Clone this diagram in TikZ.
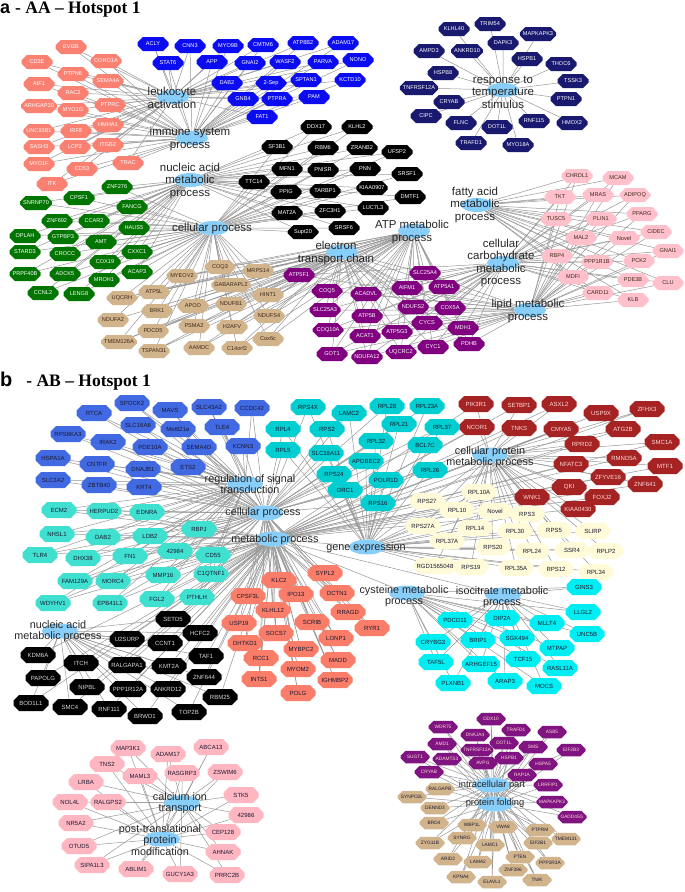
\documentclass[tikz,border=0pt]{standalone}
\usepackage{fontspec}
\setmainfont{Liberation Serif}
\setsansfont{Liberation Sans}
\usetikzlibrary{shapes.misc,shapes.geometric,backgrounds}

\definecolor{termblue}{RGB}{135,206,250}
\definecolor{cEdge}{RGB}{150,150,150}
\definecolor{cSalmon}{RGB}{250,128,114}
\definecolor{cBlue}{RGB}{12,12,240}
\definecolor{cNavy}{RGB}{25,25,112}
\definecolor{cGreen}{RGB}{0,118,0}
\definecolor{cTan}{RGB}{210,180,140}
\definecolor{cPurple}{RGB}{128,0,128}
\definecolor{cPink}{RGB}{255,192,203}
\definecolor{cBrown}{RGB}{60,40,25}
\definecolor{cInk}{RGB}{25,25,50}
\definecolor{cRoyal}{RGB}{65,105,225}
\definecolor{cTurq}{RGB}{64,224,208}
\definecolor{cTomato}{RGB}{250,125,105}
\definecolor{cTeal}{RGB}{0,206,209}
\definecolor{cRed}{RGB}{165,35,35}
\definecolor{cCream}{RGB}{255,250,215}
\definecolor{cCyan}{RGB}{0,238,242}
\definecolor{cPinkB}{RGB}{255,182,193}
\definecolor{cPurpleB}{RGB}{128,20,128}

\newcommand\genefont{\sffamily\fontsize{5.6}{6}\selectfont}
\newcommand\genefontb{\sffamily\fontsize{6}{7}\selectfont}
\newcommand\genefontc{\sffamily\fontsize{4.8}{5}\selectfont}
\newcommand\termfont{\sffamily\fontsize{11.5}{12.5}\selectfont}
\newcommand\termfontb{\sffamily\fontsize{10.8}{11.5}\selectfont}
\newcommand\termfontc{\sffamily\fontsize{9.3}{10}\selectfont}

% gene lists: name/x/y
\def\aSalList{EVI2B/71/47,CD3E/37/62,CORO1A/106/61,PTPN6/73/74,SEMA4A/108/81,AIF1/39/84,
  RAC2/73/93,ARHGAP30/39/106,MYO1G/73/110,PTPRC/110/105,HMHA1/108/125,UNC93B1/39/131,IRF8/76/131,
  SASH3/39/147,LCP2/75/147,ITGB2/108/145,TRAC/128/163,MYO1F/39/164,CD53/82/169,ITK/52/184}
\def\aBluList{ACLY/153/44,CNN3/190/46,MYO9B/228/46,CMTM6/263/45,ATP8B2/303/43,ADAM17/343/43,
  STAT6/168/63,APP/212/62,GNAI2/250/63,WASF2/285/62,PARVA/323/62,NONO/358/60,DAB2/227/83,
  2-Sep/271/83,SPTAN1/306/80,KCTD10/350/80,GNB4/243/99,PTPRA/277/99,PAM/314/97,FAT1/262/117}
\def\aNavList{TRIM54/490/24,KLHL40/454/29,MAPKAPK3/538/34,DAPK3/503/43,ANKRD10/467/51,
  AMPD3/429/51,HSPB1/527/59,THOC6/561/64,HSPB8/443/73,TSSK3/573/81,TNFRSF12A/419/88,PTPN1/566/99,
  CRYAB/449/102,CIPC/426/116,FLNC/461/123,DOT1L/497/127,RNF115/534/121,HMOX2/572/123,
  TRAFD1/471/143,MYO18A/518/145}
\def\aBlkList{DDX17/316/127,KLHL2/357/127,SF3B1/277/147,RBM6/323/148,ZRANB2/362/148,
  UFSP2/397/152,MFN1/287/169,PNISR/323/170,PNN/365/169,SRSF1/407/174,TTC14/254/182,PPIG/286/192,
  TARBP1/325/191,KIAA0907/372/188,DMTF1/410/197,MAT2A/287/213,ZFC3H1/330/211,LUC7L3/373/208,
  Supt20/303/232,SRSF6/344/228}
\def\aGrnList{ZNF276/117/187,CPSF1/79/198,SNRNP70/36/203,FANCG/132/207,ZNF692/57/221,
  CCAR2/94/221,HAUS5/134/228,OPLAH/25/236,GTPBP3/63/237,AMT/101/242,STARD3/25/252,CROCC/65/254,
  CXXC1/137/252,COX19/105/262,PRPF40B/25/274,ADCK5/65/274,ACAP3/137/272,MROH1/104/280,
  CCNL2/43/293,LENG8/79/294}
\def\aTanList{COQ3/220/267,MRPS14/258/271,MYEOV2/182/276,GABARAPL2/231/285,ATP5L/154/292,
  HINT1/268/295,UQCRH/122/298,APOO/193/306,NDUFB1/231/304,BRK1/157/311,NDUFS4/269/316,
  NDUFA2/113/320,PSMA2/194/326,H2AFV/232/327,PDCD5/153/331,TMEM126A/119/342,Cox6c/268/339,
  AAMDC/199/348,C14orf2/237/348,TSPAN31/154/351}
\def\aPurList{ATP5F1/299/275,COQ5/327/291,SLC25A3/325/310,COQ10A/328/330,GOT1/332/354,
  SLC25A4/425/273,AIFM1/407/288,ATP5A1/444/287,ACADVL/366/294,NDUFS2/413/307,COX5A/450/308,
  ATP5B/367/316,CYCS/427/323,MDH1/463/328,ACAT1/365/336,ATP5G3/397/332,CYC1/433/347,
  PDHB/469/344,UQCRC2/401/352,NDUFA12/367/357}
\def\aPnkList{CHRDL1/577/176,MCAM/618/178,TKT/560/197,MRAS/598/195,ADIPOQ/635/195,
  TUSC5/556/219,PLIN1/601/219,PPARG/642/214,CIDEC/656/232,MAL2/581/238,Novel/624/238,
  GNAI1/668/251,RBP4/557/256,PPP1R1B/597/262,PCK2/639/261,MDFI/573/277,PDE3B/633/280,
  CLU/668/283,CARD11/598/293,KLB/633/300}
\def\bRoyList{SPOCK2/132/403,RTCA/94/413,MAVS/170/410,SLC43A2/209/407,CCDC42/252/408,
  SLC16A6/138/425,Mettl21e/178/429,TLE4/222/427,RPS6KA3/68/434,IRAK2/108/442,PDE10A/150/447,
  SEMA4D/199/447,KCNN3/243/446,HSPA1A/53/458,CNTFR/97/464,DNAJB1/143/469,ETS2/188/467,
  SLC3A2/53/480,ZBTB40/99/485,KRT4/144/487}
\def\bTrqList{ECM2/59/510,HERPUD2/104/511,EDNRA/147/512,NHSL1/57/534,DAB2/103/537,
  LDB2/150/536,RBPJ/199/529,TLR4/40/555,DHX38/83/558,FN1/130/556,42984/175/551,CD55/213/555,
  FAM129A/75/581,MORC4/113/581,MMP16/163/575,C1QTNF1/211/574,WDYHV1/53/603,EPB41L1/110/603,
  FGL2/157/599,PTHLH/197/597}
\def\bBlkList{SETD5/173/619,U2SURP/127/639,HCFC2/200/633,CCNT1/165/643,KDM6A/38/655,
  ITCH/81/663,TAF1/206/656,RALGAPA1/127/665,KMT2A/169/666,ZNF644/204/677,PAPOLG/43/678,
  NIPBL/87/687,PPP1R12A/128/689,ANKRD12/168/689,RBM25/220/697,BOD1L1/31/703,SMC4/70/707,
  RNF111/109/709,BRWD1/145/716,TOP2B/189/712}
\def\bTomList{SYPL2/325/573,KLC2/279/580,CPSF3L/248/596,IPO13/296/594,DCTN1/337/593,
  KLHL12/273/610,RRAGD/348/612,USP19/239/623,SCRIB/312/622,RYR1/372/628,SOCS7/276/633,
  LONP1/336/638,DHTKD1/245/643,MYBPC2/301/649,RCC1/261/658,MADD/338/660,MYOM2/298/669,
  INTS1/259/679,IGHMBP2/335/680,POLG/298/693}
\def\bTelList{RPS4X/308/407,LAMC2/349/413,RPL28/387/406,RPL23A/427/406,RPL4/283/429,
  RPS2/327/429,RPL21/399/424,RPL37/442/427,RPL5/283/450,SLC16A11/326/453,RPL32/376/441,
  BCL7C/425/445,APOBEC2/366/461,RPS24/334/474,RPL26/430/470,POLR1D/386/480,ORC1/345/490,
  RPS16/378/503}
\def\bRedList{PIK3R1/476/404,SETBP1/519/405,ASXL2/559/404,USP9X/601/413,ZFHX3/647/409,
  NCOR1/477/427,TNKS/519/428,CMYA5/561/429,ATG2B/623/429,RPRD2/582/444,SMC1A/662/442,
  RMND5A/624/458,NFATC3/571/464,MTF1/665/466,ZFYVE16/608/477,ZNF641/645/484,QKI/569/487,
  FOXJ2/602/497,WNK1/532/497,KIAA0430/578/509}
\def\bCrmList{RPS27/427/501,RPL10A/479/492,RPL10/457/510,Novel/495/511,RPS3/527/514,
  RPS27A/423/526,RPL14/475/528,RPL30/515/531,RPS5/554/530,SLIRP/593/531,RPL37A/447/541,
  RPS20/493/547,RPL24/532/551,SSR4/572/550,RPLP2/606/551,RGD1565048/435/566,RPS19/471/567,
  RPL35A/516/568,RPS12/556/569,RPL34/596/572}
\def\bCynList{GINS3/584/587,LLGL2/583/612,PDCD11/455/620,DIP2A/502/618,MLLT4/547/623,
  UNC5B/587/634,CRYBG3/433/642,BRIP1/478/640,SGK494/517/638,MTPAP/557/648,TAF5L/436/662,
  ARHGEF15/481/664,TCF15/523/659,RASL11A/560/668,PLXNB1/453/683,ARAP3/505/681,MOCS/544/686}
\def\bPnkList{MAP3K1/128/748,ADAM17/168/754,ABCA13/211/747,TNS2/107/764,MAML3/140/776,
  RASGRP3/182/773,ZSWIM6/225/772,LRBA/86/782,NOL4L/70/802,RALGPS2/108/802,STK5/241/795,
  42986/246/815,NR5A2/76/823,CEP128/223/832,OTUD5/79/846,AHNAK/223/852,SIPA1L3/92/865,
  ABLIM1/136/869,GUCY1A3/180/874,PRRC2B/227/875}
\def\bPurList{WDR75/443/727,DDX10/491/719,DNAJA4/475/735,TRAFD1/516/730,AMD1/442/744,
  ASB5/552/732,DOT1L/504/743,SMS/533/747,EIF2B3/571/750,SUGT1/415/757,ADAMTS3/447/759,
  TNFRSF12A/477/750,AVPI1/483/763,HSPB1/509/758,HSPA5/543/764,CRYAB/429/772,RAP1A/522/775,
  LRRFIP1/548/785,MAPKAPK3/552/802,GADD45G/572/817}
\def\bTanList{RALGAPB/440/789,SYNPO2L/412/797,DENND3/435/808,BRD4/434/823,WBP1L/472/825,
  VWA8/503/827,PTPRM/540/830,TMEM131/566/839,ZYG11B/430/843,SYNRG/462/838,EIF2B1/538/843,
  LAMC1/490/845,PTEN/520/857,ARID2/448/859,LAMA2/478/862,PPP2R3A/550/863,ZNF396/513/870,
  KPNA4/461/877,TNIK/537/880,ELAVL1/492/882}

\begin{document}
\begin{tikzpicture}[x=1pt,y=-1pt,
 gene/.style={chamfered rectangle,chamfered rectangle xsep=3pt,chamfered rectangle ysep=3pt,
   inner sep=0.5pt,minimum width=31pt,minimum height=14pt,font=\genefont},
 aSal/.style={gene,fill=cSalmon,text=white},
 aBlu/.style={gene,fill=cBlue,text=white},
 aNav/.style={gene,fill=cNavy,text=white},
 aBlk/.style={gene,fill=black,text=white},
 aGrn/.style={gene,fill=cGreen,text=white},
 aTan/.style={gene,fill=cTan,text=cBrown},
 aPur/.style={gene,fill=cPurple,text=white},
 aPnk/.style={gene,fill=cPink,text=cBrown},
 bgene/.style={gene,minimum width=35pt,minimum height=16pt,font=\genefontb},
 bRoy/.style={bgene,fill=cRoyal,text=cInk},
 bTrq/.style={bgene,fill=cTurq,text=cInk},
 bBlk/.style={bgene,fill=black,text=white!85!black},
 bTom/.style={bgene,fill=cTomato,text=cInk},
 bTel/.style={bgene,fill=cTeal,text=cInk},
 bRed/.style={bgene,fill=cRed,text=white!85!red},
 bCrm/.style={bgene,fill=cCream,text=cInk},
 bCyn/.style={bgene,fill=cCyan,text=cInk},
 bPnk/.style={bgene,fill=cPinkB,text=cInk},
 cgene/.style={gene,minimum width=29pt,minimum height=12.5pt,font=\genefontc},
 bPur/.style={cgene,fill=cPurpleB,text=pink!60!white},
 bTan/.style={cgene,fill=cTan,text=cInk},
 aterm/.style={ellipse,fill=termblue,minimum width=32pt,minimum height=14pt,inner sep=0pt},
 bterm/.style={aterm,minimum width=36pt,minimum height=15pt},
 atext/.style={align=center,font=\termfont,text=black!85,inner sep=0pt},
 btext/.style={atext,font=\termfontb},
 ctext/.style={atext,font=\termfontc},
 edge/.style={draw=cEdge,line width=0.5pt}]
\useasboundingbox (0,0) rectangle (685,892);

% titles
\node[anchor=base west,inner sep=0pt] (titleA) at (0,13)
  {\sffamily\bfseries\fontsize{18}{18}\selectfont a \rmfamily\fontsize{17.5}{18}\selectfont- AA – Hotspot 1};
\node[anchor=base west,inner sep=0pt] (titleB) at (0,386)
  {\sffamily\bfseries\fontsize{20}{20}\selectfont b\hspace{14pt}\rmfamily\fontsize{17.5}{18}\selectfont- AB – Hotspot 1};

% ---------------- panel a: GO terms
\node[aterm] (aLeuk) at (173,97) {};
\node[aterm] (aImm) at (192,138) {};
\node[aterm] (aNuc) at (190,180) {};
\node[aterm] (aCell) at (213,228) {};
\node[aterm] (aResp) at (503,90) {};
\node[aterm] (aFat) at (477,205) {};
\node[aterm] (aAtp) at (414,231) {};
\node[aterm] (aElec) at (342,252) {};
\node[aterm] (aCarb) at (503,263) {};
\node[aterm] (aLipid) at (530,310) {};

% ---------------- panel b: GO terms
\node[bterm] (bReg) at (245,484) {};
\node[bterm] (bCell) at (265,513) {};
\node[bterm] (bMeta) at (273,539) {};
\node[bterm] (bGene) at (367,547) {};
\node[bterm] (bProt) at (490,455) {};
\node[bterm] (bNuc) at (60,631) {};
\node[bterm] (bCys) at (407,593) {};
\node[bterm] (bIso) at (503,595) {};
\node[bterm] (bCalc) at (182,803) {};
\node[bterm] (bPtm) at (162,839) {};
\node[bterm] (bIntra) at (492,785) {};
\node[bterm] (bFold) at (495,804) {};

% genes
\foreach \g/\x/\y in \aSalList {\node[aSal] (a-\g) at (\x,\y) {\g};}
\foreach \g/\x/\y in \aBluList {\node[aBlu] (a-\g) at (\x,\y) {\g};}
\foreach \g/\x/\y in \aNavList {\node[aNav] (a-\g) at (\x,\y) {\g};}
\foreach \g/\x/\y in \aBlkList {\node[aBlk] (a-\g) at (\x,\y) {\g};}
\foreach \g/\x/\y in \aGrnList {\node[aGrn] (a-\g) at (\x,\y) {\g};}
\foreach \g/\x/\y in \aTanList {\node[aTan] (a-\g) at (\x,\y) {\g};}
\foreach \g/\x/\y in \aPurList {\node[aPur] (a-\g) at (\x,\y) {\g};}
\foreach \g/\x/\y in \aPnkList {\node[aPnk] (a-\g) at (\x,\y) {\g};}
\foreach \g/\x/\y in \bRoyList {\node[bRoy] (b-\g) at (\x,\y) {\g};}
\foreach \g/\x/\y in \bTrqList {\node[bTrq] (b-\g) at (\x,\y) {\g};}
\foreach \g/\x/\y in \bBlkList {\node[bBlk] (b-\g) at (\x,\y) {\g};}
\foreach \g/\x/\y in \bTomList {\node[bTom] (b-\g) at (\x,\y) {\g};}
\foreach \g/\x/\y in \bTelList {\node[bTel] (b-\g) at (\x,\y) {\g};}
\foreach \g/\x/\y in \bRedList {\node[bRed] (b-\g) at (\x,\y) {\g};}
\foreach \g/\x/\y in \bCrmList {\node[bCrm] (b-\g) at (\x,\y) {\g};}
\foreach \g/\x/\y in \bCynList {\node[bCyn] (b-\g) at (\x,\y) {\g};}
\foreach \g/\x/\y in \bPnkList {\node[bPnk] (b-\g) at (\x,\y) {\g};}
\foreach \g/\x/\y in \bPurList {\node[bPur] (b-\g) at (\x,\y) {\g};}
\foreach \g/\x/\y in \bTanList {\node[bTan] (b-\g) at (\x,\y) {\g};}

% edges, behind everything
\begin{scope}[on background layer]
  \foreach \g/\x/\y in \aSalList {\draw[edge] (a-\g) -- (aLeuk) (a-\g) -- (aImm);}
  \foreach \g/\x/\y in \aBluList {\draw[edge] (a-\g) -- (aLeuk) (a-\g) -- (aImm);}
  \foreach \g/\x/\y in \aNavList {\draw[edge] (a-\g) -- (aResp);}
  \foreach \g/\x/\y in \aBlkList {\draw[edge] (a-\g) -- (aNuc) (a-\g) -- (aCell);}
  \foreach \g/\x/\y in \aGrnList {\draw[edge] (a-\g) -- (aNuc) (a-\g) -- (aCell);}
  \foreach \g/\x/\y in \aTanList {\draw[edge] (a-\g) -- (aCell) (a-\g) -- (aElec) (a-\g) -- (aAtp);}
  \foreach \g/\x/\y in \aPurList {\draw[edge] (a-\g) -- (aElec) (a-\g) -- (aAtp) (a-\g) -- (aCarb) (a-\g) -- (aLipid);}
  \foreach \g/\x/\y in \aPnkList {\draw[edge] (a-\g) -- (aFat) (a-\g) -- (aCarb) (a-\g) -- (aLipid);}
  \foreach \g/\x/\y in \bRoyList {\draw[edge] (b-\g) -- (bReg) (b-\g) -- (bCell);}
  \foreach \g/\x/\y in \bTrqList {\draw[edge] (b-\g) -- (bReg) (b-\g) -- (bCell) (b-\g) -- (bMeta);}
  \foreach \g/\x/\y in \bBlkList {\draw[edge] (b-\g) -- (bNuc) (b-\g) -- (bMeta);}
  \foreach \g/\x/\y in \bTomList {\draw[edge] (b-\g) -- (bMeta) (b-\g) -- (bCell);}
  \foreach \g/\x/\y in \bTelList {\draw[edge] (b-\g) -- (bGene) (b-\g) -- (bCell);}
  \foreach \g/\x/\y in \bRedList {\draw[edge] (b-\g) -- (bProt) (b-\g) -- (bMeta);}
  \foreach \g/\x/\y in \bCrmList {\draw[edge] (b-\g) -- (bGene) (b-\g) -- (bProt);}
  \foreach \g/\x/\y in \bCynList {\draw[edge] (b-\g) -- (bCys) (b-\g) -- (bIso);}
  \foreach \g/\x/\y in \bPnkList {\draw[edge] (b-\g) -- (bCalc) (b-\g) -- (bPtm);}
  \foreach \g/\x/\y in \bPurList {\draw[edge] (b-\g) -- (bIntra) (b-\g) -- (bFold);}
  \foreach \g/\x/\y in \bTanList {\draw[edge] (b-\g) -- (bIntra) (b-\g) -- (bFold);}
  \draw[edge] (bMeta) -- (bGene) (bMeta) -- (bProt) (bMeta) -- (bCys) (bMeta) -- (bIso);
\end{scope}

% term labels on top
\node[atext] (aLeukTxt) at (172,98) {leukocyte\\activation};
\node[atext] (aImmTxt) at (190,139) {immune system\\process};
\node[atext] (aNucTxt) at (190,181) {nucleic acid\\metabolic\\process};
\node[atext] (aCellTxt) at (212,229) {cellular process};
\node[atext] (aRespTxt) at (503,92) {response to\\temperature\\stimulus};
\node[atext] (aFatTxt) at (475,205) {fatty acid\\metabolic\\process};
\node[atext] (aAtpTxt) at (412,232) {ATP metabolic\\process};
\node[atext] (aElecTxt) at (336,253) {electron\\transport chain};
\node[atext] (aCarbTxt) at (501,263) {cellular\\carbohydrate\\metabolic\\process};
\node[atext] (aLipidTxt) at (528,311) {lipid metabolic\\process};
\node[btext] (bRegTxt) at (250,484) {regulation of signal\\transduction};
\node[btext] (bCellTxt) at (263,513) {cellular process};
\node[btext] (bMetaTxt) at (275,540) {metabolic process};
\node[btext] (bGeneTxt) at (366,548) {gene expression};
\node[btext] (bProtTxt) at (490,457) {cellular protein\\metabolic process};
\node[btext] (bNucTxt) at (58,631) {nucleic acid\\metabolic process};
\node[btext] (bCysTxt) at (404,596) {cysteine metabolic\\process};
\node[btext] (bIsoTxt) at (502,597) {isocitrate metabolic\\process};
\node[btext] (bCalcTxt) at (180,803) {calcium ion\\transport};
\node[btext] (bPtmTxt) at (160,840) {post-translational\\protein\\modification};
\node[ctext] (bIntraTxt) at (492,785) {intracellular part};
\node[ctext] (bFoldTxt) at (495,803) {protein folding};
\end{tikzpicture}
\end{document}
